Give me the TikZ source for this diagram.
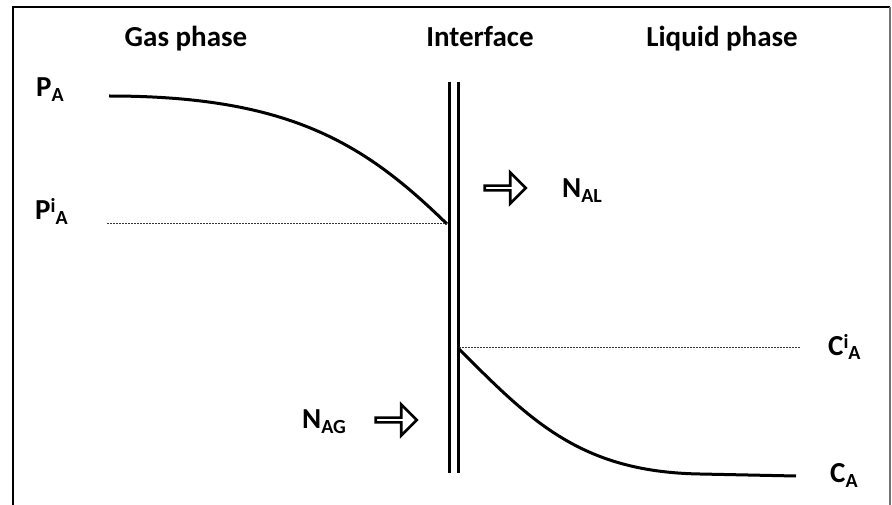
\documentclass[tikz,border=0pt]{standalone}
\usepackage{fontspec}
\setmainfont{Carlito}
\usetikzlibrary{shapes.arrows}
\newcommand{\lowtxt}[1]{\raisebox{-5pt}{\fontsize{20}{20}\selectfont #1}}
\newcommand{\uptxt}[1]{\raisebox{7pt}{\fontsize{20}{20}\selectfont #1}}
\tikzset{
  lbl/.style={anchor=base west, inner sep=0pt, font=\fontsize{29}{30}\selectfont\bfseries},
  head/.style={anchor=base, inner sep=0pt, font=\fontsize{29}{30}\selectfont\bfseries},
  profile/.style={line width=3pt},
  level/.style={line width=0.8pt, dash pattern=on 2pt off 1pt, black!80},
  wall/.style={line width=3pt},
  flux/.style={single arrow, draw, line width=2.6pt, minimum height=41pt,
    minimum width=31pt, single arrow head extend=7pt, inner sep=0pt}
}
\begin{document}
\begin{tikzpicture}[x=1pt,y=-1pt]
\useasboundingbox (0,0) rectangle (892,505);
\draw[line width=2pt] (13,505) -- (13,7) -- (890,7);
\draw[line width=1.5pt, black!55] (890,7) -- (890,505);
\node[head] (gas) at (186,47) {Gas phase};
\node[head] (iface) at (480,47) {Interface};
\node[head] (liq) at (722,47) {Liquid phase};
\draw[wall] (449,82) -- (449,473);
\draw[wall] (458,82) -- (458,473);
\coordinate (gbulk) at (109,96);
\coordinate (gint) at (447,224);
\coordinate (gdot) at (107,223);
\coordinate (ldot) at (800,347);
\coordinate (lint) at (459,349);
\coordinate (lbulk) at (796,476);
\draw[profile] (gbulk) .. controls (290,96) and (365,144) .. (gint);
\draw[profile] (lint) .. controls (530,420) and (580,472) .. (700,474) -- (lbulk);
\draw[level] (gdot) -- (447,223);
\draw[level] (459,347) -- (ldot);
\node[lbl] (pbulk) at (36,97) {P\lowtxt{A}};
\node[lbl] (pint) at (35,220) {P\uptxt{i}\lowtxt{A}};
\node[lbl] (cint) at (828,355) {C\uptxt{i}\lowtxt{A}};
\node[lbl] (cbulk) at (830,482) {C\lowtxt{A}};
\node[flux] (fluxL) at (504,188) {};
\node[lbl] (nl) at (562,198) {N\lowtxt{AL}};
\node[flux] (fluxG) at (395,420) {};
\node[lbl] (ng) at (302,428) {N\lowtxt{AG}};
\end{tikzpicture}
\end{document}
